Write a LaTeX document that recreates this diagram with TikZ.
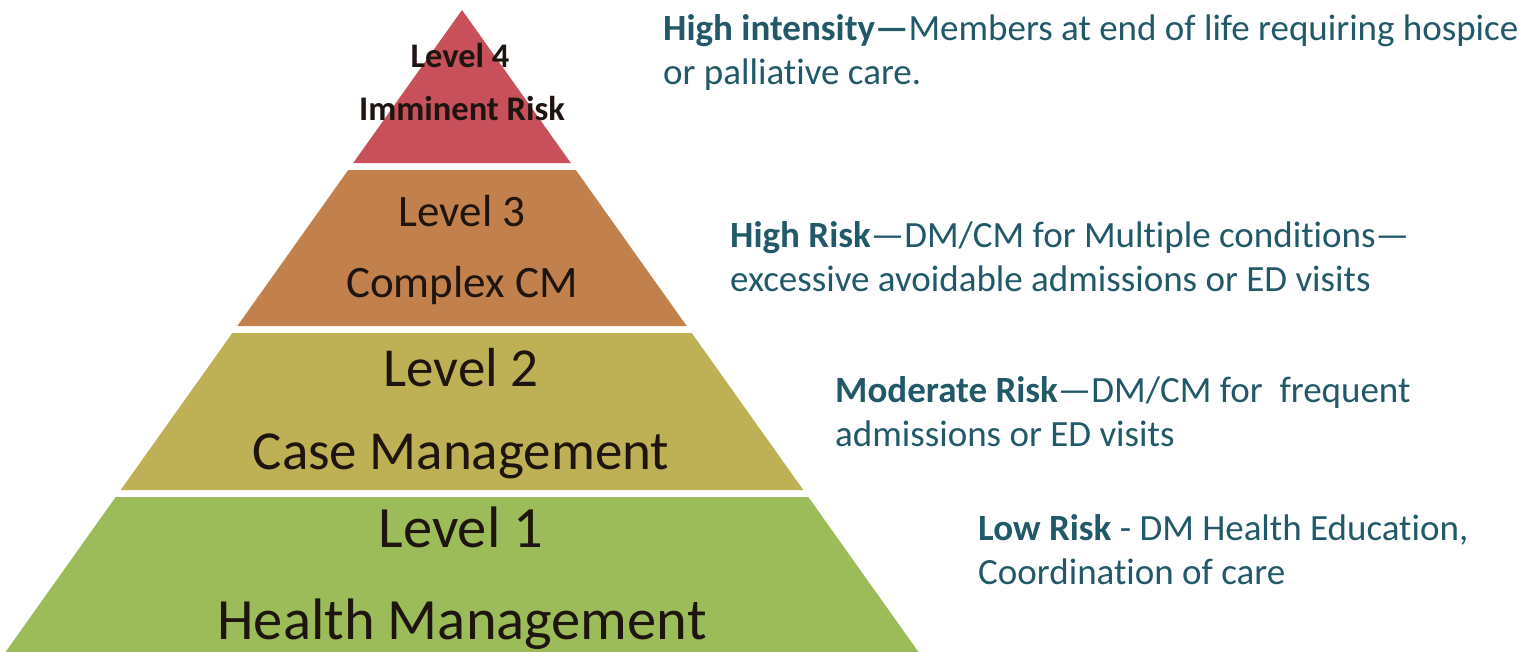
\documentclass[tikz,border=0pt]{standalone}
\usepackage{fontspec}
\setmainfont[Ligatures=NoCommon]{Carlito}
\newcommand\tiNoLig{t\kern0pt i}
\definecolor{lvlfour}{HTML}{C8505A}
\definecolor{lvlthree}{HTML}{C2814C}
\definecolor{lvltwo}{HTML}{BEB054}
\definecolor{lvlone}{HTML}{9BBC58}
\definecolor{desc}{HTML}{215968}
\definecolor{lvltext}{HTML}{1E1410}
\tikzset{
  lvllabel/.style={anchor=base, inner sep=0pt, text=lvltext},
  desctext/.style={anchor=base west, inner sep=0pt, text=desc, align=left,
    font=\fontsize{37bp}{44bp}\selectfont},
}
\begin{document}
\begin{tikzpicture}[x=1bp,y=-1bp]
\useasboundingbox (0,0) rectangle (1530,652);
% pyramid bands
\fill[lvlfour]  (462,10) -- (570.8,163) -- (353.2,163) -- cycle;
\fill[lvlthree] (348.2,170) -- (575.8,170) -- (686.7,326) -- (237.3,326) -- cycle;
\fill[lvltwo]   (232.3,333) -- (691.7,333) -- (803.3,490) -- (120.7,490) -- cycle;
\fill[lvlone]   (115.7,497) -- (808.3,497) -- (918.5,652) -- (5.5,652) -- cycle;
% level labels
\node[lvllabel, font=\bfseries\fontsize{34.5bp}{40bp}\selectfont] (l4a) at (460,68) {Level 4};
\node[lvllabel, font=\bfseries\fontsize{34.5bp}{40bp}\selectfont] (l4b) at (462,121) {Imminent Risk};
\node[lvllabel, font=\fontsize{45bp}{52bp}\selectfont] (l3a) at (462,226) {Level 3};
\node[lvllabel, font=\fontsize{45bp}{52bp}\selectfont] (l3b) at (462,297) {Complex CM};
\node[lvllabel, font=\fontsize{55bp}{62bp}\selectfont] (l2a) at (461,386) {Level 2};
\node[lvllabel, font=\fontsize{55bp}{62bp}\selectfont] (l2b) at (461,469) {Case Management};
\node[lvllabel, font=\fontsize{58.5bp}{66bp}\selectfont] (l1a) at (461,547) {Level 1};
\node[lvllabel, font=\fontsize{58.5bp}{66bp}\selectfont] (l1b) at (462,639) {Health Management};
% descriptions (base anchor = baseline of last line)
\node[desctext] (d4) at (663,85) {\textbf{High intensity—}Members at end of life requiring hospice\\or pallia\tiNoLig ve care.};
\node[desctext] (d3) at (730,291) {\textbf{High Risk}—DM/CM for Multiple condi\tiNoLig ons—\\excessive avoidable admissions or ED visits};
\node[desctext] (d2) at (835,446) {\textbf{Moderate Risk}—DM/CM for\ \ frequent\\admissions or ED visits};
\node[desctext] (d1) at (978,584) {\textbf{Low Risk} - DM Health Educa\tiNoLig on,\\Coordina\tiNoLig on of care};
\end{tikzpicture}
\end{document}
